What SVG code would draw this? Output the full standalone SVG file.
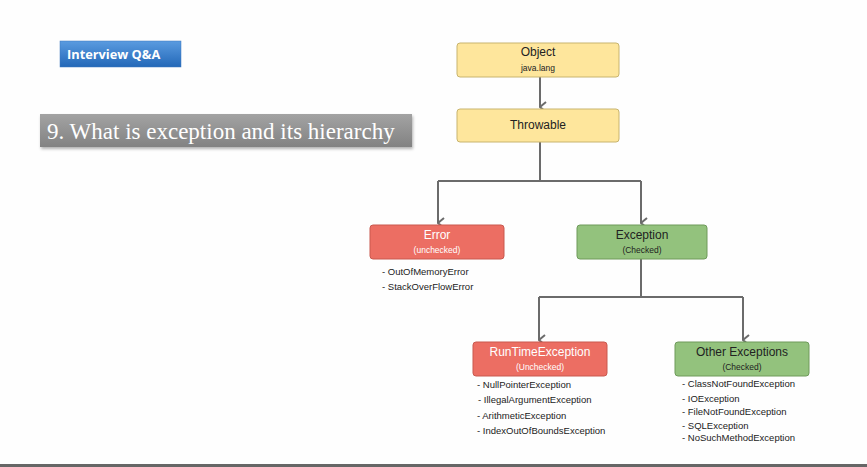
<svg xmlns="http://www.w3.org/2000/svg" width="867" height="467" viewBox="0 0 867 467">
<style>
  text { font-family: "Liberation Sans", Arial, sans-serif; }
  .line { fill: none; stroke: #6b6b6b; stroke-width: 2; }
  .yel { fill: #fee69c; stroke: #c8b46e; stroke-width: 1; }
  .red { fill: #ec6e63; stroke: #c9594f; stroke-width: 1; }
  .grn { fill: #93c27d; stroke: #6e9a5b; stroke-width: 1; }
  .t { font-size: 12px; text-anchor: middle; fill: #222; }
  .s { font-size: 8.5px; text-anchor: middle; fill: #222; }
  .tw { font-size: 12px; text-anchor: middle; fill: #ffffff; }
  .sw { font-size: 8.5px; text-anchor: middle; fill: #ffffff; }
  .li { font-size: 9.5px; fill: #222; }
</style>
<defs>
  <marker id="arr" viewBox="0 0 12 10" refX="6" refY="9" markerWidth="12" markerHeight="10" markerUnits="userSpaceOnUse" orient="auto-start-reverse">
    <path d="M1,3 L6,9 L11,3" fill="none" stroke="#6b6b6b" stroke-width="2"/>
  </marker>
  <linearGradient id="blue" x1="0" y1="0" x2="0" y2="1">
    <stop offset="0" stop-color="#5a9be0"/>
    <stop offset="1" stop-color="#2368b8"/>
  </linearGradient>
  <linearGradient id="gray" x1="0" y1="0" x2="0" y2="1">
    <stop offset="0" stop-color="#a3a3a3"/>
    <stop offset="1" stop-color="#828282"/>
  </linearGradient>
  <filter id="sh" x="-5%" y="-20%" width="110%" height="150%">
    <feDropShadow dx="1" dy="2" stdDeviation="1.5" flood-color="#000" flood-opacity="0.3"/>
  </filter>
</defs>
<rect x="0" y="0" width="867" height="467" fill="#fefefe"/>
<rect x="0" y="464" width="867" height="3" fill="#666666"/>

<g id="badge">
  <rect x="60" y="41" width="121" height="26" fill="url(#blue)" stroke="#3c78c0" stroke-width="0.5"/>
  <text x="67" y="59" font-size="12.8" font-weight="bold" fill="#ffffff" style="font-family:'Open Sans','Liberation Sans',sans-serif">Interview Q&amp;A</text>
</g>
<g id="question">
  <rect x="40" y="114" width="372" height="33" fill="url(#gray)" filter="url(#sh)"/>
  <text x="47" y="139" font-size="23" fill="#ffffff" style="font-family:'Liberation Serif','DejaVu Serif',serif">9. What is exception and its hierarchy</text>
</g>

<g id="connectors">
  <path class="line" d="M540,77 V107" marker-end="url(#arr)"/>
  <path class="line" d="M540,142 V181"/>
  <path class="line" d="M438,181 H641"/>
  <path class="line" d="M438,181 V223" marker-end="url(#arr)"/>
  <path class="line" d="M641,181 V223" marker-end="url(#arr)"/>
  <path class="line" d="M641,259 V297"/>
  <path class="line" d="M539,297 H743"/>
  <path class="line" d="M539,297 V340" marker-end="url(#arr)"/>
  <path class="line" d="M743,297 V340" marker-end="url(#arr)"/>
</g>

<g id="object">
  <rect class="yel" x="457" y="43" width="162" height="34" rx="3"/>
  <text class="t" x="538" y="56">Object</text>
  <text class="s" x="538" y="71">java.lang</text>
</g>
<g id="throwable">
  <rect class="yel" x="457" y="109" width="162" height="33" rx="3"/>
  <text class="t" x="538" y="129">Throwable</text>
</g>
<g id="error">
  <rect class="red" x="370" y="225" width="134" height="34" rx="3"/>
  <text class="tw" x="437" y="239">Error</text>
  <text class="sw" x="437" y="253">(unchecked)</text>
  <text class="li" x="382" y="275">- OutOfMemoryError</text>
  <text class="li" x="382" y="290">- StackOverFlowError</text>
</g>
<g id="exception">
  <rect class="grn" x="577" y="225" width="130" height="34" rx="3"/>
  <text class="t" x="642" y="239">Exception</text>
  <text class="s" x="642" y="253">(Checked)</text>
</g>
<g id="runtime">
  <rect class="red" x="473" y="342" width="134" height="34" rx="3"/>
  <text class="tw" x="540" y="356" font-size="13">RunTimeException</text>
  <text class="sw" x="540" y="370">(Unchecked)</text>
  <text class="li" x="477" y="388">- NullPointerException</text>
  <text class="li" x="478" y="403">- IllegalArgumentException</text>
  <text class="li" x="477" y="419">- ArithmeticException</text>
  <text class="li" x="477" y="434">- IndexOutOfBoundsException</text>
</g>
<g id="other">
  <rect class="grn" x="675" y="342" width="134" height="34" rx="3"/>
  <text class="t" x="742" y="356" font-size="13">Other Exceptions</text>
  <text class="s" x="742" y="370">(Checked)</text>
  <text class="li" x="682" y="387">- ClassNotFoundException</text>
  <text class="li" x="682" y="402">- IOException</text>
  <text class="li" x="682" y="415">- FileNotFoundException</text>
  <text class="li" x="682" y="429">- SQLException</text>
  <text class="li" x="682" y="441">- NoSuchMethodException</text>
</g>
</svg>
